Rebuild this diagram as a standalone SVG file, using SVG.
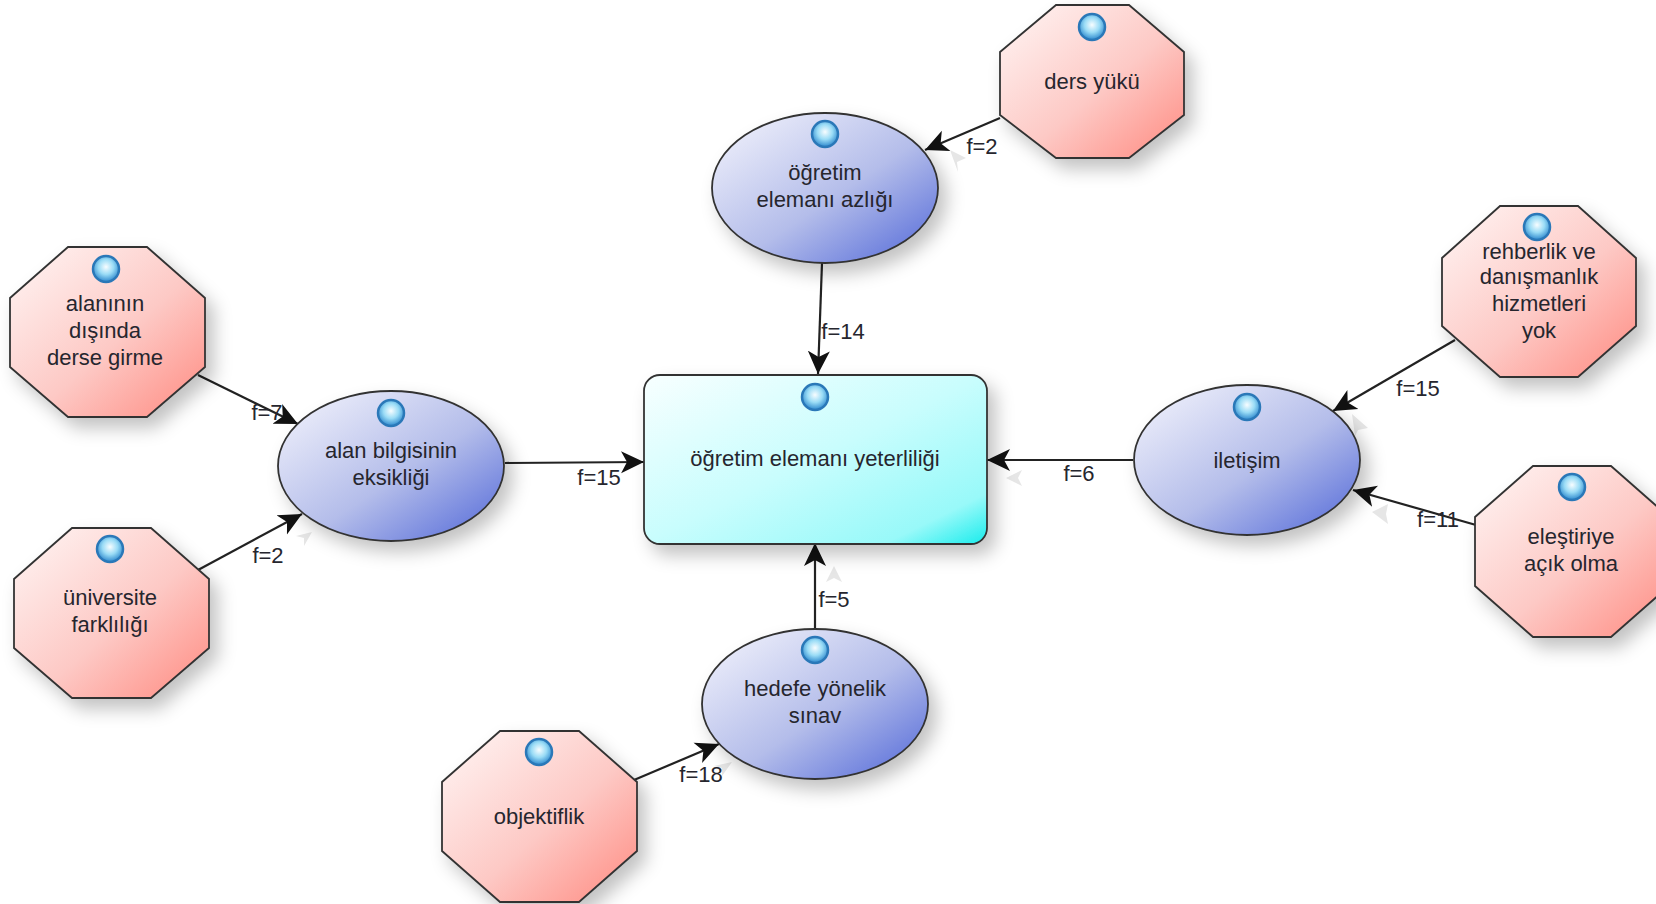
<svg xmlns="http://www.w3.org/2000/svg" width="1656" height="904" viewBox="0 0 1656 904">
<style>
text{font-family:"Liberation Sans",Arial,sans-serif;font-size:22px;fill:#26262e;text-anchor:middle}
.n{stroke:#333;stroke-width:1.8;filter:url(#sh)}
.o{fill:url(#red)}.e{fill:url(#blue)}.r{fill:url(#cyan)}
.c{stroke:#222;stroke-width:2.2;fill:none;marker-end:url(#arr)}
.b{fill:url(#ball);stroke:#2a78b8;stroke-width:2.5}
.g{fill:#e6e6e6}
</style>
<defs>
<linearGradient id="red" x1="0" y1="0" x2="1" y2="1"><stop offset="0" stop-color="#fff6f5"/><stop offset="0.55" stop-color="#fdc9c5"/><stop offset="1" stop-color="#ff8a80"/></linearGradient>
<linearGradient id="blue" x1="0" y1="0" x2="1" y2="1"><stop offset="0" stop-color="#f6f6fd"/><stop offset="0.55" stop-color="#b4bdea"/><stop offset="1" stop-color="#4f66d8"/></linearGradient>
<linearGradient id="cyan" x1="0" y1="0" x2="1" y2="1"><stop offset="0" stop-color="#f8ffff"/><stop offset="0.5" stop-color="#c8fdfd"/><stop offset="0.85" stop-color="#98f9f9"/><stop offset="1" stop-color="#18ecec"/></linearGradient>
<radialGradient id="ball" cx="0.5" cy="0.42" r="0.58"><stop offset="0" stop-color="#f8fdff"/><stop offset="0.5" stop-color="#9adcf6"/><stop offset="1" stop-color="#2a86cc"/></radialGradient>
<filter id="sh" x="-20%" y="-20%" width="150%" height="150%"><feDropShadow dx="8" dy="10" stdDeviation="9" flood-color="#000" flood-opacity="0.24"/></filter>
<marker id="arr" markerUnits="userSpaceOnUse" markerWidth="26" markerHeight="24" refX="23" refY="12" orient="auto"><path d="M0 1L23 12L0 23L6 12Z" fill="#111"/></marker>
</defs>
<rect width="1656" height="904" fill="#fff"/>
<g id="connectors">
<path class="c" d="M1000 118L925 150"/>
<path class="c" d="M822 263L818 374"/>
<path class="c" d="M198 375L298 424"/>
<path class="c" d="M198 570L302 514"/>
<path class="c" d="M505 463L644 462"/>
<path class="c" d="M1133 460L987 460"/>
<path class="c" d="M1455 340L1333 411"/>
<path class="c" d="M1476 525L1353 490"/>
<path class="c" d="M815 628L815 543"/>
<path class="c" d="M634 780L719 744"/>
<g id="ghost-arrowheads">
<path class="g" d="M950 150L966 158L957 162L958 172Z"/>
<path class="g" d="M1352 414L1368 428L1358 430L1355 436Z"/>
<path class="g" d="M1372 512L1388 504L1386 514L1388 524Z"/>
<path class="g" d="M834 566L842 582L834 578L826 582Z"/>
<path class="g" d="M1006 478L1022 470L1018 478L1022 486Z"/>
<path class="g" d="M312 532L304 546L304 538L296 536Z"/>
<path class="g" d="M732 762L722 776L722 768L714 766Z"/>
</g>
</g>
<g id="labels">
<text x="982" y="154">f=2</text>
<text x="843" y="339">f=14</text>
<text x="267" y="420">f=7</text>
<text x="268" y="563">f=2</text>
<text x="599" y="485">f=15</text>
<text x="1079" y="481">f=6</text>
<text x="1418" y="396">f=15</text>
<text x="1438" y="527">f=11</text>
<text x="834" y="607">f=5</text>
<text x="701" y="782">f=18</text>
</g>
<g id="n-yeterlilik"><rect class="n r" x="644" y="375" width="343" height="169" rx="16"/><circle class="b" cx="815" cy="397" r="13"/><text x="815" y="466">öğretim elemanı yeterliliği</text></g>
<g id="n-azlik"><ellipse class="n e" cx="825" cy="188" rx="113" ry="75"/><circle class="b" cx="825" cy="134" r="13"/><text x="825" y="180">öğretim</text><text x="825" y="207">elemanı azlığı</text></g>
<g id="n-alan"><ellipse class="n e" cx="391" cy="466" rx="113" ry="75"/><circle class="b" cx="391" cy="413" r="13"/><text x="391" y="458">alan bilgisinin</text><text x="391" y="485">eksikliği</text></g>
<g id="n-iletisim"><ellipse class="n e" cx="1247" cy="460" rx="113" ry="75"/><circle class="b" cx="1247" cy="407" r="13"/><text x="1247" y="468">iletişim</text></g>
<g id="n-hedefe"><ellipse class="n e" cx="815" cy="704" rx="113" ry="75"/><circle class="b" cx="815" cy="650" r="13"/><text x="815" y="696">hedefe yönelik</text><text x="815" y="723">sınav</text></g>
<g id="n-ders"><polygon class="n o" points="1056,5 1129,5 1184,52 1184,115 1129,158 1056,158 1000,115 1000,52"/><circle class="b" cx="1092" cy="27" r="13"/><text x="1092" y="89">ders yükü</text></g>
<g id="n-alanin"><polygon class="n o" points="68,247 147,247 205,298 205,367 147,417 68,417 10,367 10,298"/><circle class="b" cx="106" cy="269" r="13"/><text x="105" y="311">alanının</text><text x="105" y="338">dışında</text><text x="105" y="365">derse girme</text></g>
<g id="n-universite"><polygon class="n o" points="72,528 151,528 209,579 209,648 151,698 72,698 14,648 14,579"/><circle class="b" cx="110" cy="549" r="13"/><text x="110" y="605">üniversite</text><text x="110" y="632">farklılığı</text></g>
<g id="n-rehberlik"><polygon class="n o" points="1500,206 1578,206 1636,258 1636,326 1578,377 1500,377 1442,326 1442,258"/><circle class="b" cx="1537" cy="227" r="13"/><text x="1539" y="259">rehberlik ve</text><text x="1539" y="284">danışmanlık</text><text x="1539" y="311">hizmetleri</text><text x="1539" y="338">yok</text></g>
<g id="n-elestiriye"><polygon class="n o" points="1533,466 1611,466 1669,517 1669,586 1611,637 1533,637 1475,586 1475,517"/><circle class="b" cx="1572" cy="487" r="13"/><text x="1571" y="544">eleştiriye</text><text x="1571" y="571">açık olma</text></g>
<g id="n-objektiflik"><polygon class="n o" points="500,731 579,731 637,782 637,851 579,902 500,902 442,851 442,782"/><circle class="b" cx="539" cy="752" r="13"/><text x="539" y="824">objektiflik</text></g>
</svg>
